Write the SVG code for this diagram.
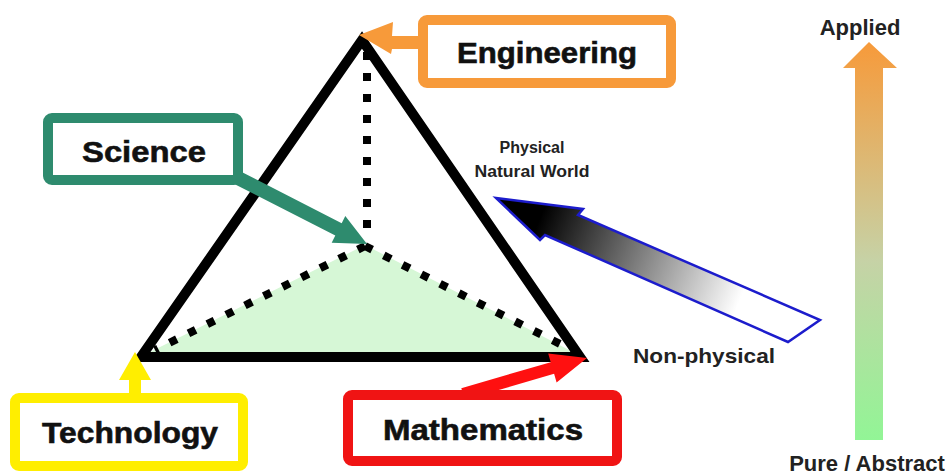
<svg xmlns="http://www.w3.org/2000/svg" width="952" height="476" viewBox="0 0 952 476">
<defs>
<linearGradient id="gBlue" gradientUnits="userSpaceOnUse" x1="540" y1="218" x2="740" y2="300">
<stop offset="0" stop-color="#000"/><stop offset="1" stop-color="#fff"/>
</linearGradient>
<linearGradient id="gVert" x1="0" y1="0" x2="0" y2="1">
<stop offset="0" stop-color="#f79a3a"/><stop offset="0.55" stop-color="#c6d2a6"/><stop offset="1" stop-color="#92f596"/>
</linearGradient>
<style>
.box{fill:#fff;stroke-width:10;stroke-linejoin:round}
.lbl{font-family:"Liberation Sans",Arial,sans-serif;font-weight:bold;font-size:29px;fill:#111;stroke:#111;stroke-width:0.6;text-anchor:middle}
.sm{font-family:"Liberation Sans",Arial,sans-serif;font-weight:bold;fill:#222;text-anchor:middle}
.dot{fill:none;stroke:#000;stroke-width:8;stroke-dasharray:8 13}
</style>
</defs>
<rect width="952" height="476" fill="#fff"/>
<g id="pyramid">
<polygon points="148,353 365,245 575,353" fill="#d6f7d6"/>
<line class="dot" x1="367" y1="52" x2="367" y2="240"/>
<line class="dot" x1="365" y1="246" x2="155" y2="350"/>
<line class="dot" x1="365" y1="246" x2="572" y2="350"/>
<polygon points="362,40 141,357 580,357" fill="none" stroke="#000" stroke-width="10" stroke-linejoin="miter"/>
</g>
<g id="connectors">
<path d="M424,36 L392,36 L393,22 L359,35 L391,54 L392,49 L424,49 Z" fill="#f79a3a"/>
<path d="M234.8,184.2 L335.3,235.6 L331.7,242.8 L367,244 L345.3,216 L341.7,223.2 L241.2,171.8 Z" fill="#2e8b6e"/>
<path d="M129,398 L129,380 L119,380 L135,352 L151,380 L141,380 L141,398 Z" fill="#ffee00"/>
<path d="M464.7,399.8 L554.1,373.8 L556.6,382.4 L587,358 L548.2,353.6 L550.7,362.2 L461.3,388.2 Z" fill="#ff1010"/>
<path d="M496,198 L583,209 L578,215 L820,320 L788,342 L545,235 L540,240 Z" fill="url(#gBlue)" stroke="#1c1ccc" stroke-width="2.5" stroke-linejoin="miter"/>
<path d="M855,440 L855,68 L843,68 L869,42 L897,68 L883,68 L883,440 Z" fill="url(#gVert)"/>
</g>
<g id="engineering">
<rect class="box" x="423" y="20" width="248" height="63" rx="4" stroke="#f79a3a"/>
<text class="lbl" x="547" y="63" textLength="180" lengthAdjust="spacingAndGlyphs">Engineering</text>
</g>
<g id="science">
<rect class="box" x="48" y="118" width="190" height="62" rx="4" stroke="#2e8b6e"/>
<text class="lbl" x="144" y="162" textLength="124" lengthAdjust="spacingAndGlyphs">Science</text>
</g>
<g id="technology">
<rect class="box" x="15" y="398" width="228" height="68" rx="4" stroke="#ffee00"/>
<text class="lbl" x="130" y="443" textLength="176" lengthAdjust="spacingAndGlyphs">Technology</text>
</g>
<g id="mathematics">
<rect class="box" x="348" y="395" width="269" height="66" rx="4" stroke="#f01414"/>
<text class="lbl" x="483" y="440" textLength="200" lengthAdjust="spacingAndGlyphs">Mathematics</text>
</g>
<g id="labels">
<text class="sm" x="532" y="153" font-size="16">Physical</text>
<text class="sm" x="532" y="177" font-size="16" textLength="115" lengthAdjust="spacingAndGlyphs">Natural World</text>
<text class="sm" x="704" y="363" font-size="21" fill="#111" textLength="142" lengthAdjust="spacingAndGlyphs">Non-physical</text>
<text class="sm" x="860" y="35" font-size="22" fill="#111">Applied</text>
<text class="sm" x="867" y="471" font-size="22" fill="#111">Pure / Abstract</text>
</g>
</svg>
